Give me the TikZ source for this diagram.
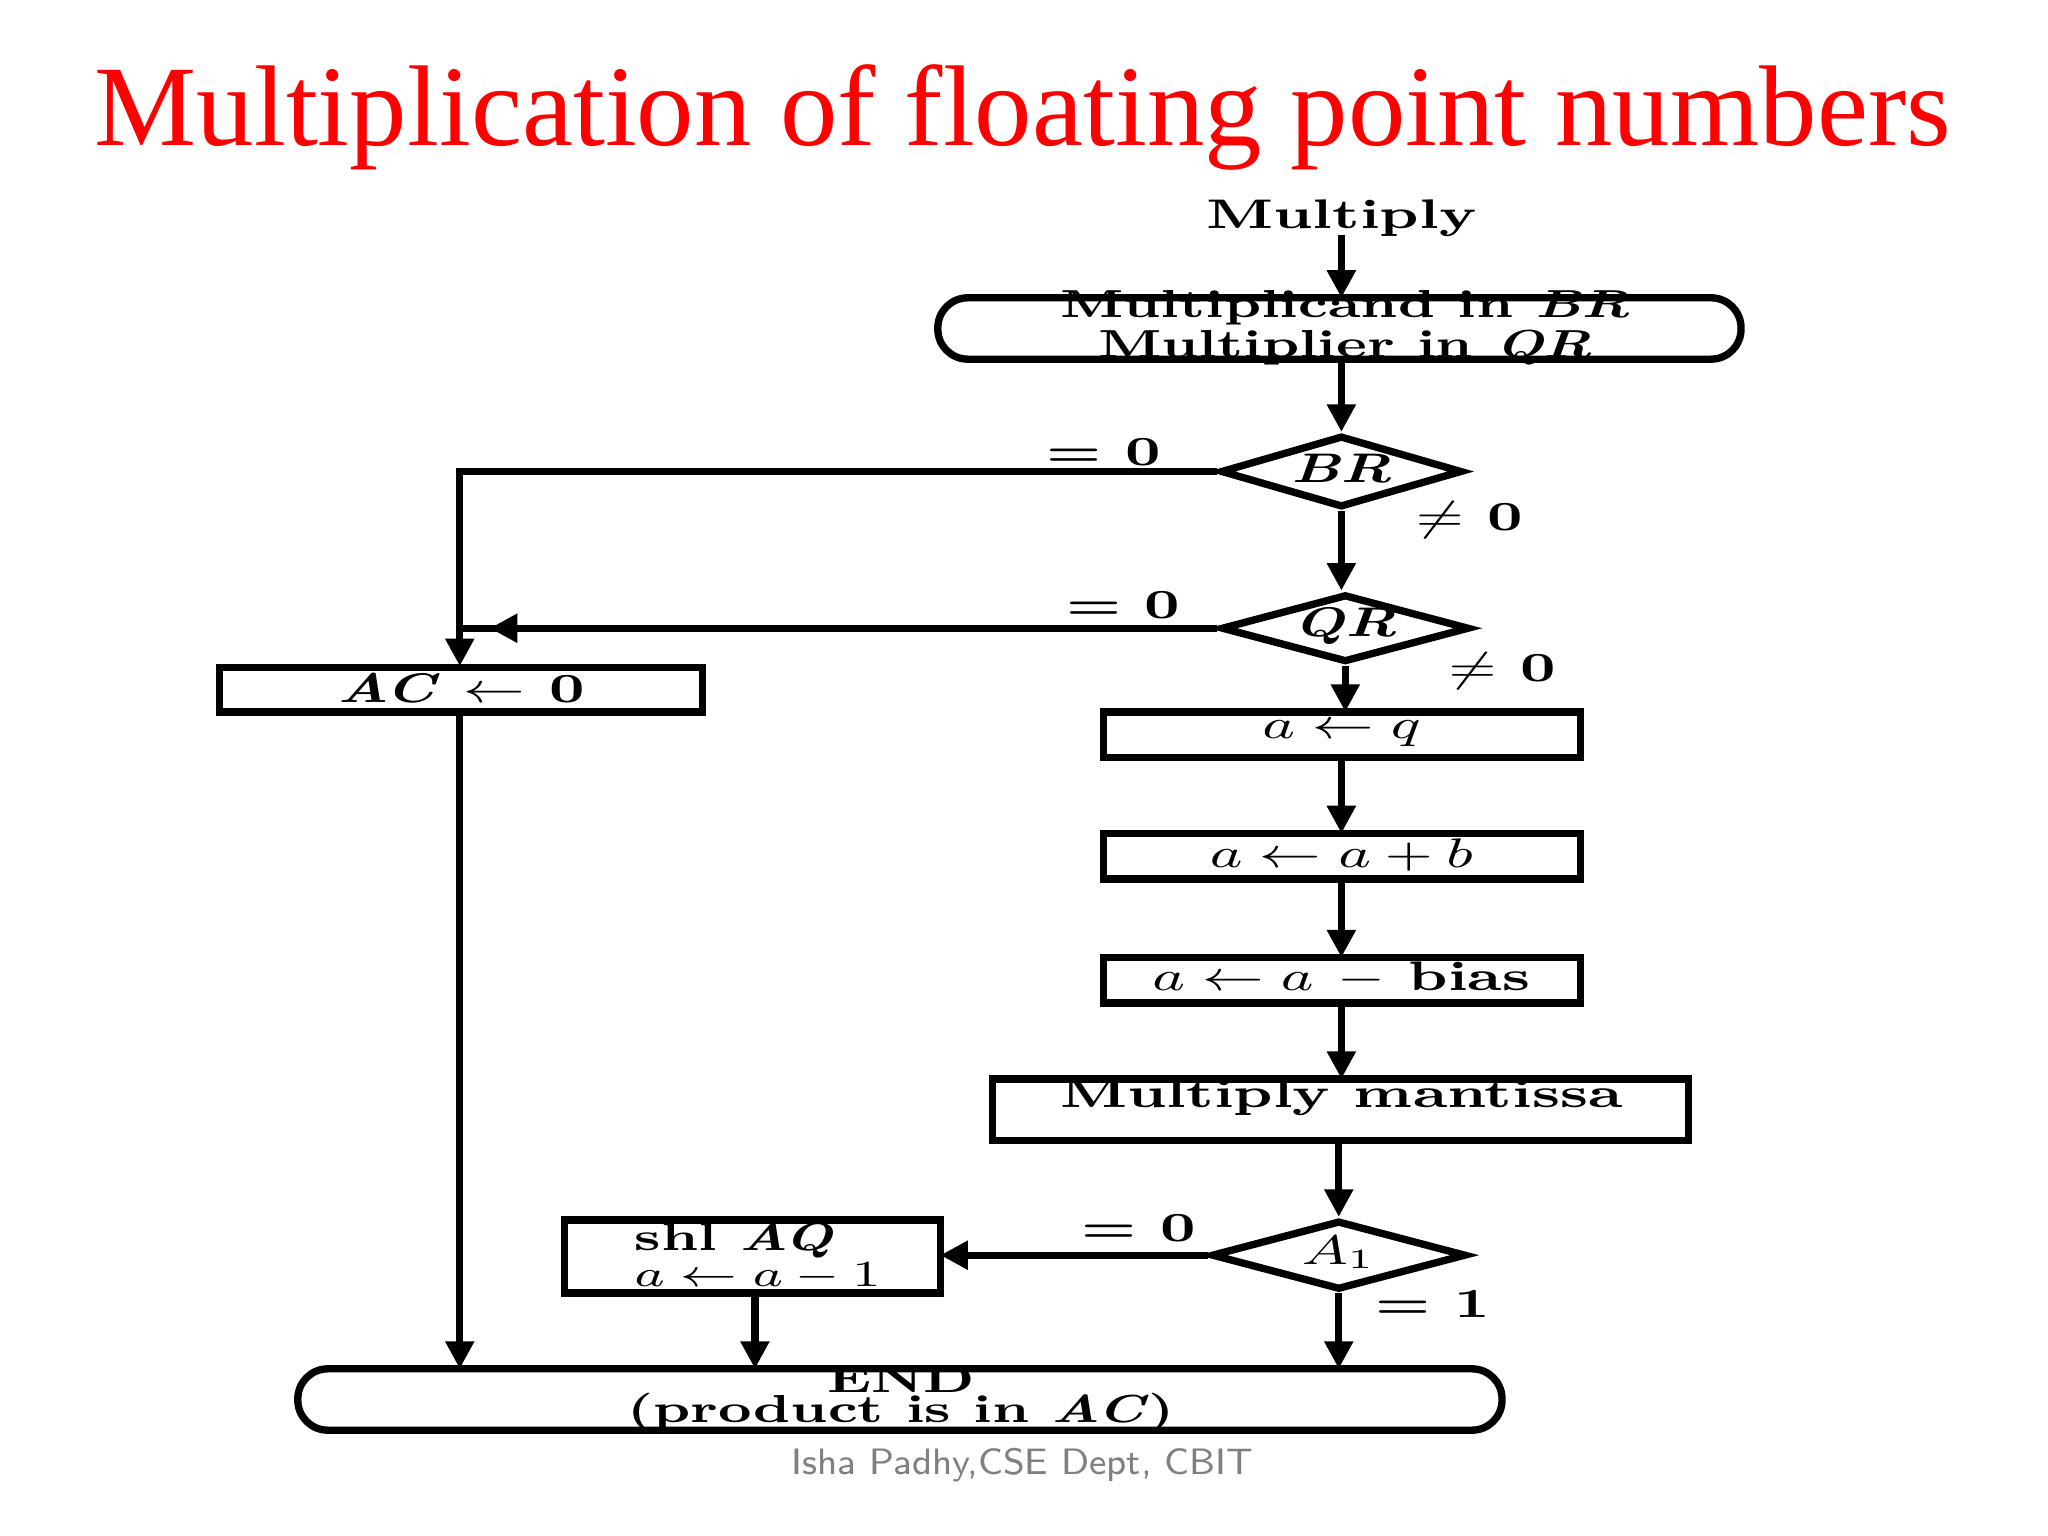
\documentclass[tikz,border=0pt]{standalone}
\usepackage{fontspec}
\newfontfamily\titlefont{Liberation Serif}
\usetikzlibrary{shapes.geometric,arrows.meta}
\newcommand{\wtx}[1]{\scalebox{1.45}[1]{#1}}
\begin{document}
\begin{tikzpicture}[x=0.01cm,y=-0.01cm,
  ln/.style={line width=1.6pt},
  ar/.style={ln,-{Triangle[length=6pt,width=6pt]}},
  bx/.style={draw,line width=1.6pt,inner sep=0pt},
  dm/.style={draw,line width=1.6pt,diamond,aspect=3.5,inner sep=0pt},
  tx/.style={font=\fontsize{9}{9}\selectfont\bfseries,align=center},
  tx2/.style={font=\fontsize{8.5}{6.5}\selectfont\bfseries,align=center}]
\useasboundingbox (0,0) rectangle (1568,1176);
\node[text=red,font=\titlefont\fontsize{25}{28}\selectfont] (title) at (783,90) {Multiplication of floating point numbers};
\node[tx] (mul) at (1027,167) {\wtx{Multiply}};
\draw[bx,rounded corners=0.23cm] (718,228) rectangle (1333,275);
\node[tx2] (start) at (1030,251) {\wtx{Multiplicand in \textit{BR}}\\\wtx{Multiplier in \textit{QR}}};
\coordinate (starttop) at (1027,228); \coordinate (startbot) at (1027,275);
\node[dm,minimum width=1.85cm,minimum height=0.55cm] (br) at (1027,361) {};
\node[tx] at (1027,359) {\wtx{\textit{BR}}};
\node[dm,minimum width=1.9cm,minimum height=0.52cm] (qr) at (1030,481) {};
\node[tx] at (1030,479) {\wtx{\textit{QR}}};
\draw[bx] (168,511) rectangle (538,545);
\node[tx] (ac) at (353,527) {\wtx{\textit{AC} $\leftarrow$ 0}};
\draw[bx] (845,545) rectangle (1210,580);
\node[tx] (aq) at (1027,562) {\wtx{$a\leftarrow q$}};
\draw[bx] (845,638) rectangle (1210,673);
\node[tx] (aab) at (1027,655) {\wtx{$a\leftarrow a+b$}};
\draw[bx] (845,733) rectangle (1210,768);
\node[tx] (abias) at (1027,749) {\wtx{$a\leftarrow a$ $-$ bias}};
\draw[bx] (760,826) rectangle (1293,873);
\node[tx] (mm) at (1027,840) {\wtx{Multiply mantissa}};
\node[dm,minimum width=1.95cm,minimum height=0.53cm] (a1) at (1025,961) {};
\node[tx] at (1025,959) {\wtx{$A_1$}};
\draw[bx] (432,934) rectangle (720,990);
\node[tx2,align=left] (shl) at (580,962) {\wtx{shl \textit{AQ}}\\\wtx{$a\leftarrow a-1$}};
\draw[bx,rounded corners=0.23cm] (228,1048) rectangle (1150,1095);
\node[tx2] (end) at (690,1071) {\wtx{END}\\\wtx{(product is in \textit{AC})}};
\node[tx] at (845,346) {\wtx{= 0}};
\node[tx] at (1125,398) {\wtx{$\neq$ 0}};
\node[tx] at (860,463) {\wtx{= 0}};
\node[tx] at (1150,514) {\wtx{$\neq$ 0}};
\node[tx] at (872,940) {\wtx{= 0}};
\node[tx] at (1097,998) {\wtx{= 1}};
\node[text=gray,font=\fontsize{8}{9}\selectfont\sffamily] (foot) at (783,1122) {Isha Padhy,CSE Dept, CBIT};
% connectors
\draw[ar] (1027,180) -- (starttop);
\draw[ar] (startbot) -- (br.north);
\draw[ar] (br.south) -- (br.south |- qr.north);
\draw[ar] (br.west) -- (352,361) -- (352,510);
\draw[ln] (qr.west) -- (352,481);
\draw[ar] (qr.west) -- (375,481);
\draw[ar] (qr.south) -- (1030,545);
\draw[ar] (1027,580) -- (1027,638);
\draw[ar] (1027,673) -- (1027,733);
\draw[ar] (1027,768) -- (1027,826);
\draw[ar] (1025,873) -- (a1.north);
\draw[ar] (a1.west) -- (720,961);
\draw[ar] (a1.south) -- (1025,1048);
\draw[ar] (578,990) -- (578,1048);
\draw[ar] (352,545) -- (352,1048);
\end{tikzpicture}
\end{document}
